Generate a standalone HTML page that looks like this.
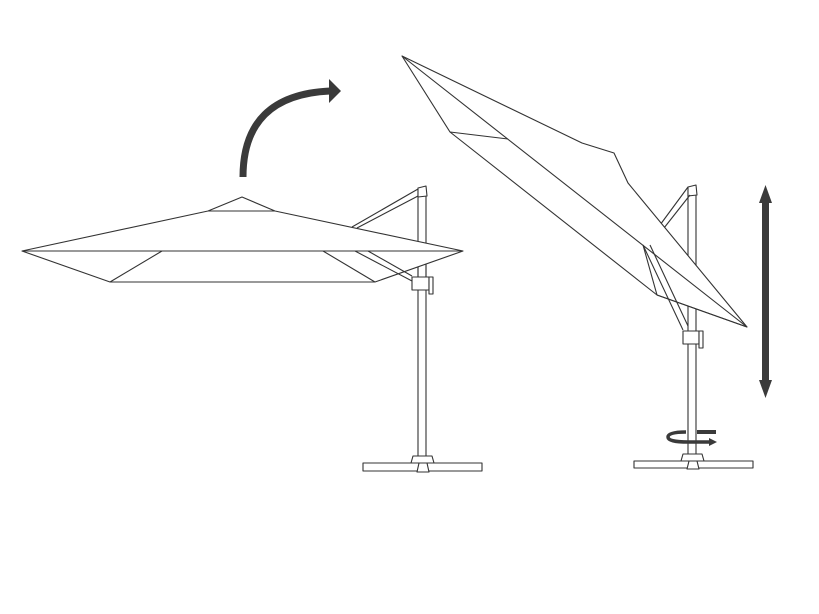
<!DOCTYPE html>
<html><head><style>html,body{margin:0;padding:0;background:#fff}svg{display:block}</style></head>
<body>
<svg width="819" height="614" viewBox="0 0 819 614" xmlns="http://www.w3.org/2000/svg">
<rect width="819" height="614" fill="#fff"/>
<g fill="none" stroke="#333" stroke-width="1.1" stroke-linejoin="round">
<!-- left pole -->
<rect x="418" y="190" width="8" height="267" fill="#fff"/>
<polygon points="418,188 426,186 427,196 418,197" fill="#fff"/>
<line x1="352" y1="227" x2="418" y2="189"/>
<line x1="357" y1="228" x2="418" y2="196"/>
<!-- left umbrella canopy -->
<polygon points="22,251 208,211 242,197 275,211 463,251 375,282 110,282" fill="#fff"/>
<line x1="208" y1="211" x2="275" y2="211"/>
<line x1="22" y1="251" x2="463" y2="251"/>
<line x1="162" y1="251" x2="110" y2="282"/>
<line x1="323" y1="251" x2="375" y2="282"/>
<line x1="418" y1="282" x2="418" y2="267"/>
<line x1="426" y1="282" x2="426" y2="265"/>
<line x1="355" y1="251" x2="412" y2="281"/>
<line x1="368" y1="251" x2="412" y2="276"/>
<rect x="412" y="277" width="17" height="13" fill="#fff"/>
<rect x="429" y="277" width="4" height="17" fill="#fff"/>
<polygon points="411,463 413,456 432,456 434,463" fill="#fff"/>
<rect x="363" y="463" width="119" height="8" fill="#fff"/>
<polygon points="419,463 427,463 429,472 417,472" fill="#fff"/>
<!-- right pole -->
<rect x="688" y="190" width="8" height="265" fill="#fff"/>
<polygon points="688,187 696,185 697,195 688,196" fill="#fff"/>
<line x1="660" y1="225" x2="688" y2="187"/>
<line x1="664" y1="228" x2="690" y2="195"/>
<!-- right canopy -->
<polygon points="402,56 582,143 614,153 628,183 747,327 657,295 450,132" fill="#fff"/>
<line x1="402" y1="56" x2="747" y2="327"/>
<line x1="450" y1="132" x2="508" y2="139"/>
<line x1="657" y1="295" x2="747" y2="327"/>
<!-- lower strut right -->
<line x1="643" y1="245" x2="657" y2="295"/>
<line x1="643" y1="245" x2="683" y2="330"/>
<line x1="650" y1="245" x2="688" y2="326"/>
<rect x="683" y="331" width="16" height="13" fill="#fff"/>
<rect x="699" y="331" width="4" height="17" fill="#fff"/>
<polygon points="681,461 683,454 702,454 704,461" fill="#fff"/>
<rect x="634" y="461" width="119" height="7" fill="#fff"/>
<polygon points="689,461 697,461 699,469 687,469" fill="#fff"/>
</g>
<!-- curved arrow -->
<path d="M243,177 Q243,95 330,91" fill="none" stroke="#3a3a3a" stroke-width="7"/>
<polygon points="329,79 341,91 329,103" fill="#3a3a3a"/>
<!-- vertical double arrow -->
<rect x="762" y="196" width="7" height="192" fill="#3a3a3a"/>
<polygon points="765.5,185 772,203 759,203" fill="#3a3a3a"/>
<polygon points="765.5,398 772,380 759,380" fill="#3a3a3a"/>
<!-- rotation arrow -->
<line x1="697" y1="432" x2="716" y2="432" stroke="#3a3a3a" stroke-width="4"/>
<path d="M686,432 Q668,432 668,437 Q668,442 688,442 L710,442" fill="none" stroke="#3a3a3a" stroke-width="3.5"/>
<polygon points="709,438 717,442 709,446" fill="#3a3a3a"/>
</svg>
</body></html>
